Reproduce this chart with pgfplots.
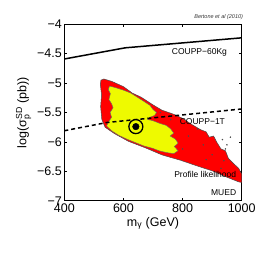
\documentclass[border=0pt]{standalone}
\usepackage{pgfplots}
\pgfplotsset{compat=1.18}
\usepackage{fontspec}
\setmainfont{Liberation Sans}
\usepackage{amsmath}
\definecolor{myyellow}{RGB}{238,250,0}
\definecolor{myred}{RGB}{255,0,0}
\begin{document}
\begin{tikzpicture}
\begin{axis}[
  scale only axis, width=177.4pt, height=176.4pt,
  xmin=400, xmax=1000, ymin=-7, ymax=-4,
  xtick={400,600,800,1000},
  xticklabels={400,600,800,1000},
  ytick={-7,-6.5,-6,-5.5,-5,-4.5,-4},
  yticklabels={−7,−6.5,−6,−5.5,−5,−4.5,−4},
  tick align=inside, major tick length=3pt,
  axis line style={line width=0.9pt},
  tick style={line width=0.6pt, black},
  ticklabel style={font=\fontsize{12.5}{14}\selectfont},
  yticklabel style={xshift=1pt},
  /pgf/number format/assume math mode=true,
  xlabel={m$_{\text{γ}}$ (GeV)},
  ylabel={log(σ$^{\text{SD}}_{\text{p}}$ (pb))},
  label style={font=\fontsize{12.5}{14}\selectfont},
  xlabel style={yshift=3pt},
  ylabel style={yshift=-1pt},
  clip=true,
]
% red 95% region
\addplot[fill=myred, draw=black!70, line width=0.5pt] coordinates {
(524,-4.95) (534,-4.93) (560,-4.97) (600,-5.06) (630,-5.17) (660,-5.24) (700,-5.37)
(730,-5.46) (770,-5.53) (800,-5.6) (830,-5.7) (860,-5.79) (880,-5.83) (890,-5.92)
(905,-5.9) (915,-6.0) (930,-6.12) (945,-6.15) (955,-6.28) (975,-6.38) (990,-6.45)
(1000,-6.55) (1000,-6.69) (990,-6.68) (950,-6.6) (905,-6.5) (850,-6.41) (792,-6.31)
(750,-6.25) (730,-6.22) (674,-6.10) (617,-5.99) (570,-5.86) (538,-5.75) (527,-5.62)
(523,-5.4) (526,-5.2) (522,-5.02)
} -- cycle;
% yellow 68% region
\addplot[fill=myyellow, draw=black!60, line width=0.4pt] coordinates {
(553,-5.05) (575,-5.08) (600,-5.12) (625,-5.17) (650,-5.25) (675,-5.33) (690,-5.38)
(700,-5.45) (712,-5.5) (705,-5.55) (690,-5.58) (682,-5.62) (700,-5.64) (720,-5.68)
(745,-5.72) (760,-5.78) (770,-5.85) (758,-5.9) (775,-5.95) (785,-6.02) (772,-6.08)
(785,-6.15) (770,-6.2) (745,-6.18) (720,-6.15) (700,-6.11) (670,-6.07) (640,-6.01)
(615,-5.96) (585,-5.89) (560,-5.81) (543,-5.73) (551,-5.65) (560,-5.58) (555,-5.5)
(565,-5.42) (560,-5.35) (551,-5.28) (556,-5.18) (549,-5.11)
} -- cycle;
% specks
\addplot[only marks, mark=*, mark size=0.5pt, black!70] coordinates {
(760,-5.62) (820,-5.9) (870,-6.05) (900,-6.22) (940,-6.32) (930,-6.45) (800,-6.12)
(850,-5.78) (725,-5.5) (880,-6.3) (935,-5.96) (950,-6.05) (962,-5.92) (945,-6.12)
};
% COUPP-60Kg
\addplot[black, line width=1.5pt] coordinates {(400,-4.59) (606,-4.40) (1000,-4.23)};
% COUPP-1T
\addplot[black, line width=1.5pt, dash pattern=on 4pt off 3pt] coordinates {(400,-5.81) (544,-5.67) (1000,-5.44)};
% best fit
\addplot[only marks, mark=*, mark size=7pt, mark options={fill=myyellow, draw=black, line width=1.3pt}] coordinates {(642,-5.74)};
\addplot[only marks, mark=*, mark size=3.3pt, mark options={fill=black, draw=black}] coordinates {(642,-5.74)};
% labels
\node[font=\fontsize{8.5}{10}\selectfont] at (axis cs:857,-4.47) {COUPP−60Kg};
\node[font=\fontsize{8.5}{10}\selectfont] at (axis cs:867,-5.66) {COUPP−1T};
\node[font=\fontsize{8.5}{10}\selectfont, anchor=east, inner sep=0pt] at (axis cs:982,-6.56) {Profile likelihood};
\node[font=\fontsize{8.5}{10}\selectfont, anchor=east, inner sep=0pt] at (axis cs:982,-6.86) {MUED};
\end{axis}
\node[font=\fontsize{5.5}{6}\itshape, anchor=south east, inner sep=0pt, text=black!80] at ([shift={(1.5pt,4.5pt)}]current axis.north east) {Bertone et al (2010)};
\path ([shift={(-64.3pt,-65.3pt)}]current axis.south west) rectangle ([shift={(24.3pt,24.3pt)}]current axis.north east);
\end{tikzpicture}
\end{document}
